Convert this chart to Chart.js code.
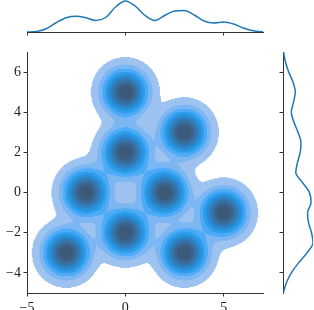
<!DOCTYPE html>
<html>
<head>
<meta charset="utf-8">
<script src="https://cdn.jsdelivr.net/npm/chart.js@4.4.0/dist/chart.umd.min.js"></script>
<style>
  html, body { margin:0; padding:0; background:#fff; }
  #wrap { position:relative; width:314px; height:310px; overflow:hidden; }
  canvas { position:absolute; }
</style>
</head>
<body>
<div id="wrap">
  <canvas id="joint" width="314" height="310" style="left:0;top:0"></canvas>
  <canvas id="margx" width="314" height="36" style="left:0;top:0"></canvas>
  <canvas id="margy" width="44" height="310" style="left:270px;top:0"></canvas>
</div>
<script>
(function(){
  'use strict';

  // blob centres
  const centersX = [0, 3, 0, -2, 2, 0, 5, 3, -3];
  const centersY = [5, 3, 2, 0, 0, -2, -1, -3, -3];
  const spread = 0.7;

  // contour levels, as a share of the peak density
  const levelFractions = [0.05, 0.1556, 0.2611, 0.3667, 0.4722, 0.5778, 0.6833, 0.7889, 0.8944, 1];

  // marginal curves
  const margXPos  = [-5, -4.5, -4, -3.5, -3, -2.5, -2, -1.5, -1, -0.5, 0, 0.5, 1, 1.5, 2, 2.5, 3, 3.5, 4, 4.5, 5, 5.5, 6, 6.5, 7];
  const margXDens = [0, 0.6, 3.5, 9.5, 14.3, 15.7, 14.2, 11.5, 14.5, 25, 31, 26, 16.5, 11.5, 16.5, 21, 21.5, 17, 11, 9, 10, 8, 4, 1.2, 0.2];
  const margYPos  = [-5, -4.5, -4, -3.5, -3, -2.5, -2, -1.5, -1, -0.5, 0, 0.5, 1, 1.5, 2, 2.5, 3, 3.5, 4, 4.5, 5, 5.5, 6, 6.5, 7];
  const margYDens = [0.3, 3.3, 8.3, 15.6, 24, 30, 28.5, 25.5, 24.6, 28, 26.5, 19.5, 12.8, 14.5, 17.2, 18, 15, 11, 8.3, 10.5, 12.3, 10, 5.7, 2.5, 0.5];

  const xTicks = [-5, 0, 5];
  const yTicks = [-4, -2, 0, 2, 4, 6];

  const BASE = '#1f77b4';
  const AXIS = '#333333';
  const FONT = { family: 'Liberation Serif', size: 14 };

  // --- HUSL, as seaborn uses for its single colour ramp ---
  const M = [[3.240969941904521,-1.537383177570093,-0.498610760293],
             [-0.96924363628087,1.87596750150772,0.041555057407175],
             [0.055630079696993,-0.20397695888897,1.056971514242878]];
  const MINV = [[0.41239079926595,0.35758433938387,0.18048078840183],
                [0.21263900587151,0.71516867876775,0.072192315360733],
                [0.019330818715591,0.11919477979462,0.95053215224966]];
  const REF_U = 0.19783000664283, REF_V = 0.46831999493879;
  const KAPPA = 903.2962962, EPS = 0.0088564516;

  function bounds(L){
    const sub1 = Math.pow(L + 16, 3) / 1560896;
    const sub2 = sub1 > EPS ? sub1 : L / KAPPA;
    const out = [];
    M.forEach(([m1, m2, m3]) => {
      [0, 1].forEach(t => {
        const top1 = (284517 * m1 - 94839 * m3) * sub2;
        const top2 = (838422 * m3 + 769860 * m2 + 731718 * m1) * L * sub2 - 769860 * t * L;
        const bottom = (632260 * m3 - 126452 * m2) * sub2 + 126452 * t;
        out.push([top1 / bottom, top2 / bottom]);
      });
    });
    return out;
  }
  function maxChroma(L, H){
    const h = H / 180 * Math.PI;
    let min = Infinity;
    bounds(L).forEach(([s, i]) => {
      const len = i / (Math.sin(h) - s * Math.cos(h));
      if (len >= 0) min = Math.min(min, len);
    });
    return min;
  }
  function huslToRgb(H, S, L){
    if (L > 99.9999999) return [1, 1, 1];
    if (L < 1e-8) return [0, 0, 0];
    const C = maxChroma(L, H) / 100 * S;
    const h = H / 180 * Math.PI;
    const U = C * Math.cos(h), V = C * Math.sin(h);
    const vu = U / (13 * L) + REF_U, vv = V / (13 * L) + REF_V;
    const Y = L <= 8 ? L / KAPPA : Math.pow((L + 16) / 116, 3);
    const X = -(9 * Y * vu) / ((vu - 4) * vv - vu * vv);
    const Z = (9 * Y - 15 * vv * Y - vv * X) / (3 * vv);
    return M.map(r => {
      const c = r[0] * X + r[1] * Y + r[2] * Z;
      const v = c <= 0.0031308 ? 12.92 * c : 1.055 * Math.pow(c, 1 / 2.4) - 0.055;
      return Math.min(1, Math.max(0, v));
    });
  }
  function rgbToHusl(r, g, b){
    const lin = [r, g, b].map(c => c > 0.04045 ? Math.pow((c + 0.055) / 1.055, 2.4) : c / 12.92);
    const [X, Y, Z] = MINV.map(row => row[0] * lin[0] + row[1] * lin[1] + row[2] * lin[2]);
    const L = Y <= EPS ? Y * KAPPA : 116 * Math.cbrt(Y) - 16;
    const d = X + 15 * Y + 3 * Z;
    const U = 13 * L * (4 * X / d - REF_U), V = 13 * L * (9 * Y / d - REF_V);
    let H = Math.atan2(V, U) * 180 / Math.PI;
    if (H < 0) H += 360;
    return [H, Math.hypot(U, V) / maxChroma(L, H) * 100, L];
  }
  function toHex(rgb){
    return '#' + rgb.map(c => Math.round(c * 255).toString(16).padStart(2, '0')).join('');
  }

  const baseRgb = [1, 3, 5].map(i => parseInt(BASE.substr(i, 2), 16) / 255);
  const [hue, sat] = rgbToHusl(...baseRgb);
  function cmap(f){
    const k = Math.min(255, Math.max(0, Math.floor(f * 256)));
    const j = 255 - k;
    const xx = -1 + 2 * j / 293;
    return toHex(huslToRgb(hue, sat * Math.cos(xx), 35 + 45 * j / 255));
  }

  // --- density on a grid, banded like contourf ---
  function density(x, y){
    let d = 0;
    for (let k = 0; k < centersX.length; k++) {
      const dx = x - centersX[k], dy = y - centersY[k];
      d += Math.exp(-(dx * dx + dy * dy) / (2 * spread * spread));
    }
    return d;
  }

  const STEP = 0.05, N = 241;
  const grid = [];
  let peak = 0;
  for (let i = 0; i < N; i++) {
    for (let j = 0; j < N; j++) {
      const x = -5 + i * STEP, y = -5 + j * STEP;
      const d = density(x, y);
      if (d > peak) peak = d;
      grid.push({ x, y, d });
    }
  }
  const levels = levelFractions.map(f => f * peak);

  const nBands = levels.length - 1;
  const bandCells = Array.from({ length: nBands }, () => []);
  grid.forEach(c => {
    if (c.d < levels[0]) return;
    let b = 0;
    while (b < nBands - 1 && c.d >= levels[b + 1]) b++;
    bandCells[b].push({ x: c.x, y: c.y });
  });

  const span = levels[nBands] - levels[0];
  const bandDatasets = bandCells.map((cells, b) => ({
    data: cells,
    backgroundColor: cmap(((levels[b] + levels[b + 1]) / 2 - levels[0]) / span),
    pointStyle: 'rect',
    pointRadius: 1.45,
    pointBorderWidth: 0,
    order: nBands - b
  }));

  function fmt(v){ return String(v).replace('-', '\u2212'); }
  function tickGrid(){
    return { display: true, drawOnChartArea: false, drawTicks: true, tickLength: 3.5, color: AXIS, lineWidth: 1 };
  }
  const base = {
    responsive: false,
    animation: false,
    events: [],
    devicePixelRatio: 1,
    plugins: { legend: { display: false }, tooltip: { enabled: false } }
  };

  new Chart(document.getElementById('joint'), {
    type: 'scatter',
    data: { datasets: bandDatasets },
    options: Object.assign({}, base, {
      parsing: false,
      normalized: true,
      layout: { padding: { top: 52, right: 51, left: 0, bottom: 0 } },
      scales: {
        x: {
          type: 'linear', min: -5, max: 7,
          afterFit: s => { s.height = 17; },
          afterBuildTicks: s => { s.ticks = xTicks.map(v => ({ value: v })); },
          grid: tickGrid(),
          border: { display: true, color: AXIS, width: 1 },
          ticks: { padding: 3, color: '#222', font: FONT, maxRotation: 0, autoSkip: false, callback: fmt }
        },
        y: {
          type: 'linear', min: -5, max: 7,
          afterFit: s => { s.width = 27; },
          afterBuildTicks: s => { s.ticks = yTicks.map(v => ({ value: v })); },
          grid: tickGrid(),
          border: { display: true, color: AXIS, width: 1 },
          ticks: { padding: 2.5, color: '#222', font: FONT, autoSkip: false, callback: fmt }
        }
      }
    })
  });

  new Chart(document.getElementById('margx'), {
    type: 'line',
    data: { datasets: [{
      data: margXPos.map((v, i) => ({ x: v, y: margXDens[i] })),
      borderColor: BASE, borderWidth: 1.5, pointRadius: 0, fill: false,
      cubicInterpolationMode: 'monotone'
    }] },
    options: Object.assign({}, base, {
      layout: { padding: { left: 27, right: 51, top: 0, bottom: 0 } },
      scales: {
        x: {
          type: 'linear', min: -5, max: 7,
          afterFit: s => { s.height = 4; },
          afterBuildTicks: s => { s.ticks = xTicks.map(v => ({ value: v })); },
          grid: tickGrid(),
          border: { display: true, color: AXIS, width: 1 },
          ticks: { display: false }
        },
        y: { type: 'linear', display: false, min: 0, max: 32 }
      }
    })
  });

  new Chart(document.getElementById('margy'), {
    type: 'line',
    data: { datasets: [{
      data: margYPos.map((v, i) => ({ x: margYDens[i], y: v })),
      borderColor: BASE, borderWidth: 1.5, pointRadius: 0, fill: false,
      cubicInterpolationMode: 'monotone'
    }] },
    options: Object.assign({}, base, {
      indexAxis: 'y',
      layout: { padding: { left: 0, right: 1, top: 52, bottom: 17 } },
      scales: {
        y: {
          type: 'linear', position: 'left', min: -5, max: 7,
          afterFit: s => { s.width = 13; },
          afterBuildTicks: s => { s.ticks = yTicks.map(v => ({ value: v })); },
          grid: tickGrid(),
          border: { display: true, color: AXIS, width: 1 },
          ticks: { display: false }
        },
        x: { type: 'linear', display: false, min: 0, max: 30 }
      }
    })
  });
})();
</script>
</body>
</html>
